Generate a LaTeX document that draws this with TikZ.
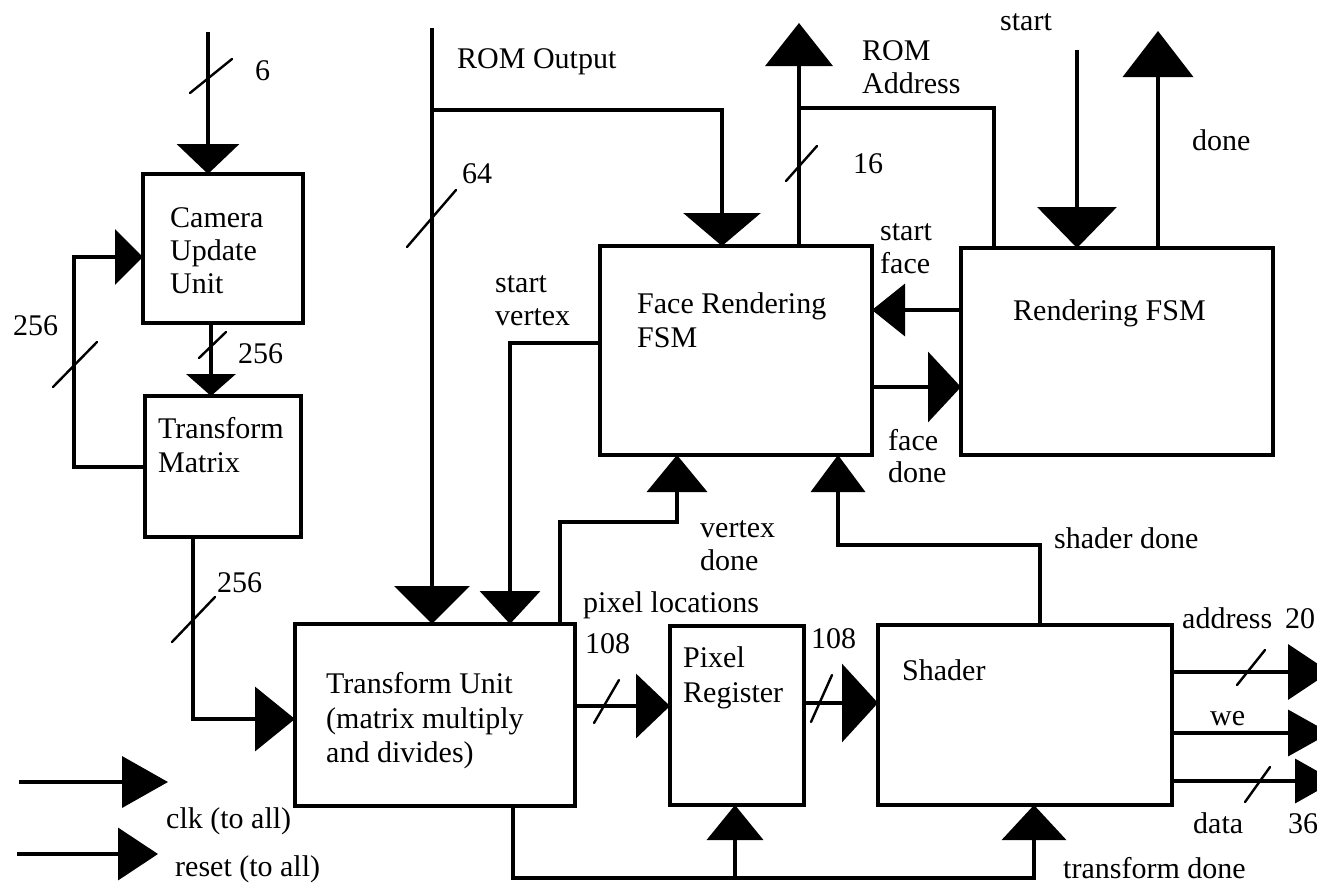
\documentclass[tikz,border=0pt]{standalone}
\usepackage{fontspec}
\setmainfont{Liberation Serif}
\usetikzlibrary{arrows.meta}
\begin{document}
\begin{tikzpicture}[x=1pt,y=-1pt,
  wire/.style={line width=3.8pt, line join=miter},
  box/.style={draw, line width=4pt, inner sep=0pt, outer sep=0pt, anchor=north west},
  lbl/.style={anchor=mid west, inner sep=0pt, yshift=-8pt, font=\fontsize{30}{34}\selectfont},
  bus/.style={line width=2.4pt, line cap=round},
  arrowhd/.style 2 args={-{Triangle[width=#1pt,length=#2pt]}}]
\useasboundingbox (0,0) rectangle (1317,887);
\fill[white] (0,0) rectangle (1317,887);
\clip (0,0) rectangle (1317,887);

% blocks
\node[box, minimum width=160pt, minimum height=149pt] (cam) at (143,174) {};
\node[box, minimum width=156pt, minimum height=141pt] (tm) at (145,396) {};
\node[box, minimum width=280pt, minimum height=182pt] (tu) at (295,624) {};
\node[box, minimum width=134pt, minimum height=179pt] (pr) at (670,626) {};
\node[box, minimum width=294pt, minimum height=180pt] (sh) at (878,625) {};
\node[box, minimum width=272pt, minimum height=209pt] (fr) at (600,246) {};
\node[box, minimum width=312pt, minimum height=207pt] (rf) at (961,248) {};

% free ends
\coordinate (in6) at (208,32);
\coordinate (romo) at (432,28);
\coordinate (rj) at (432,110);
\coordinate (raj) at (799,108);
\coordinate (romaddr) at (799,23);
\coordinate (startin) at (1077,50);
\coordinate (doneout) at (1158,31);
\coordinate (oaddr) at (1330,672);
\coordinate (owe) at (1330,733);
\coordinate (odata) at (1335,781);
\coordinate (clkin) at (19,782);
\coordinate (clkend) at (168,782);
\coordinate (rstin) at (17,854);
\coordinate (rstend) at (158,854);
\coordinate (tdj) at (735,878);

% connectors
\draw[wire, arrowhd={62}{30}] (in6) -- (in6 |- cam.north);
\draw[wire, arrowhd={55}{28}] (tm.west |- 0,467) -- (74,467) -- (74,257) -- (cam.west |- 0,257);
\draw[wire, arrowhd={49}{22}] (211,0 |- cam.south) -- (211,0 |- tm.north);
\draw[wire, arrowhd={64}{40}] (193,0 |- tm.south) -- (193,719) -- (tu.west |- 0,719);
\draw[wire, arrowhd={75}{38}] (romo) -- (romo |- tu.north);
\draw[wire, arrowhd={77}{33}] (rj) -- (722,110) -- (722,0 |- fr.north);
\draw[wire, arrowhd={60}{33}] (fr.west |- 0,343) -- (510,343) -- (510,0 |- tu.north);
\draw[wire, arrowhd={60}{37}] (560,0 |- tu.north) -- (560,522) -- (677,522) -- (677,0 |- fr.south);
\draw[wire, arrowhd={54}{37}] (1040,0 |- sh.north) -- (1040,545) -- (838,545) -- (838,0 |- fr.south);
\draw[wire, arrowhd={64}{34}] (tu.east |- 0,706) -- (pr.west |- 0,706);
\draw[wire, arrowhd={78}{36}] (pr.east |- 0,703) -- (sh.west |- 0,703);
\draw[wire, arrowhd={55}{42}] (sh.east |- 0,672) -- (oaddr);
\draw[wire, arrowhd={46}{42}] (sh.east |- 0,733) -- (owe);
\draw[wire, arrowhd={44}{40}] (sh.east |- 0,781) -- (odata);
\draw[wire, arrowhd={64}{35}] (513,0 |- tu.south) -- (513,878) -- (1034,878) -- (1034,0 |- sh.south);
\draw[wire, arrowhd={56}{35}] (tdj) -- (tdj |- pr.south);
\draw[wire, arrowhd={51}{46}] (clkin) -- (clkend);
\draw[wire, arrowhd={52}{40}] (rstin) -- (rstend);
\draw[wire, arrowhd={67}{43}] (799,0 |- fr.north) -- (romaddr);
\draw[wire] (raj) -- (994,108) -- (994,0 |- rf.north);
\draw[wire, arrowhd={79}{41}] (startin) -- (startin |- rf.north);
\draw[wire, arrowhd={70}{46}] (1158,0 |- rf.north) -- (doneout);
\draw[wire, arrowhd={52}{33}] (rf.west |- 0,310) -- (fr.east |- 0,310);
\draw[wire, arrowhd={70}{33}] (fr.east |- 0,387) -- (rf.west |- 0,387);

% bus width marks
\draw[bus] (190,93) -- (232,59);
\draw[bus] (53,387) -- (97,342);
\draw[bus] (199,358) -- (226,332);
\draw[bus] (172,642) -- (215,597);
\draw[bus] (407,247) -- (456,190);
\draw[bus] (786,181) -- (817,146);
\draw[bus] (594,723) -- (619,680);
\draw[bus] (811,722) -- (832,675);
\draw[bus] (1237,685) -- (1265,650);
\draw[bus] (1245,802) -- (1270,767);

% labels
\node[lbl] (l6) at (255,70) {6};
\node[lbl] (lcam1) at (170,217) {Camera};
\node[lbl] (lcam2) at (170,250) {Update};
\node[lbl] (lcam3) at (170,283) {Unit};
\node[lbl] (l256a) at (13,325) {256};
\node[lbl] (l256b) at (238,353) {256};
\node[lbl] (ltm1) at (158,428) {Transform};
\node[lbl] (ltm2) at (158,462) {Matrix};
\node[lbl] (l256c) at (217,582) {256};
\node[lbl] (lromo) at (457,58) {ROM Output};
\node[lbl] (l64) at (462,173) {64};
\node[lbl] (lsv1) at (495,282) {start};
\node[lbl] (lsv2) at (495,315) {vertex};
\node[lbl] (lfr1) at (637,303) {Face Rendering};
\node[lbl] (lfr2) at (637,337) {FSM};
\node[lbl] (lra1) at (862,50) {ROM};
\node[lbl] (lra2) at (862,83) {Address};
\node[lbl] (l16) at (853,163) {16};
\node[lbl] (lstart) at (1000,20) {start};
\node[lbl] (ldone) at (1192,140) {done};
\node[lbl] (lsf1) at (880,230) {start};
\node[lbl] (lsf2) at (880,263) {face};
\node[lbl] (lrf) at (1013,310) {Rendering FSM};
\node[lbl] (lfd1) at (888,440) {face};
\node[lbl] (lfd2) at (888,472) {done};
\node[lbl] (lvd1) at (700,527) {vertex};
\node[lbl] (lvd2) at (700,560) {done};
\node[lbl] (lpl) at (583,602) {pixel locations};
\node[lbl] (l108a) at (585,643) {108};
\node[lbl] (l108b) at (811,638) {108};
\node[lbl] (lpr1) at (683,657) {Pixel};
\node[lbl] (lpr2) at (683,692) {Register};
\node[lbl] (lsd) at (1054,538) {shader done};
\node[lbl] (lsh) at (902,670) {Shader};
\node[lbl] (ltu1) at (326,683) {Transform Unit};
\node[lbl] (ltu2) at (326,718) {(matrix multiply};
\node[lbl] (ltu3) at (326,752) {and divides)};
\node[lbl] (ladr) at (1182,618) {address};
\node[lbl] (l20) at (1285,618) {20};
\node[lbl] (lwe) at (1210,715) {we};
\node[lbl] (ldata) at (1193,823) {data};
\node[lbl] (l36) at (1288,823) {36};
\node[lbl] (lclk) at (166,818) {clk (to all)};
\node[lbl] (lrst) at (175,866) {reset (to all)};
\node[lbl] (ltd) at (1063,868) {transform done};
\end{tikzpicture}
\end{document}
